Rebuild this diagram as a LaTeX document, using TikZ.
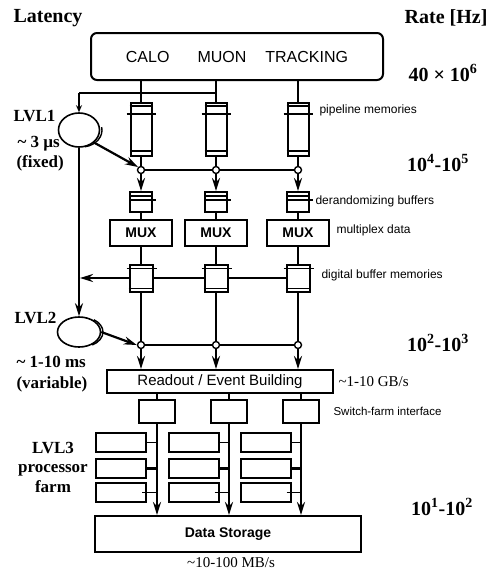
\documentclass[tikz,border=0pt]{standalone}
\usepackage{fontspec}
\setmainfont{Liberation Serif}
\setsansfont{Liberation Sans}
\usetikzlibrary{arrows.meta,positioning,shapes.geometric}

\tikzset{
  plainbox/.style={draw, line width=2pt, fill=white, inner sep=0pt},
  memory/.style={plainbox, minimum width=21pt, minimum height=53pt},
  derand/.style={plainbox, minimum width=22pt, minimum height=20pt},
  muxbox/.style={plainbox, minimum width=62pt, minimum height=26pt,
                 font=\sffamily\bfseries\fontsize{14}{16}\selectfont},
  digbuf/.style={plainbox, minimum width=23pt, minimum height=27pt},
  switchbox/.style={plainbox, minimum width=36pt, minimum height=23pt},
  procbox/.style={plainbox, minimum width=50pt, minimum height=19pt},
  trigger/.style={ellipse, draw, line width=1.6pt, inner sep=0pt},
  junction/.style={circle, draw, line width=1.4pt, fill=white,
                   minimum size=7pt, inner sep=0pt},
  flowline/.style={line width=2.8pt},
  linkline/.style={line width=2.2pt},
  flowarrow/.style={flowline, -{Stealth[length=13pt, width=8pt]}},
  sidelbl/.style={anchor=west, font=\sffamily\fontsize{12}{14}\selectfont},
  ratelbl/.style={font=\bfseries\fontsize{20}{22}\selectfont},
  lvllbl/.style={anchor=west, font=\bfseries\fontsize{17}{19}\selectfont},
}

\begin{document}
\begin{tikzpicture}[x=1pt, y=-1pt]
  \useasboundingbox (0,0) rectangle (495,571);

  %% Headings
  \node[ratelbl, anchor=west] (latency) at (10,18) {Latency};
  \node[ratelbl, anchor=east] (rate) at (491,18) {Rate [Hz]};

  %% Detector front ends
  \node[draw, line width=2pt, rounded corners=6pt, minimum width=292pt,
        minimum height=47pt, font=\sffamily\fontsize{16}{18}\selectfont]
    (det) at (237,56.5) {CALO\hspace{28pt}MUON\hspace{19pt}TRACKING};

  %% Readout chain, one column per detector
  \foreach \i/\x in {1/141,2/216,3/298} {
    \node[memory] (pm\i) at (\x,129.5) {};
    \node[junction] (ja\i) at (\x,170) {};
    \node[derand] (db\i) at (\x,202) {};
    \node[muxbox] (mux\i) at (\x,232.5) {MUX};
    \node[digbuf] (dm\i) at (\x,278) {};
    \node[junction] (jb\i) at (\x,345) {};
    % strips inside the buffers
    \draw[line width=1.5pt] ([yshift=-4pt]pm\i.north west) -- ([yshift=-4pt]pm\i.north east);
    \draw[line width=2pt] ([xshift=-3pt,yshift=-12pt]pm\i.north west)
      -- ([xshift=3pt,yshift=-12pt]pm\i.north east);
    \draw[line width=1.5pt] ([yshift=6pt]pm\i.south west) -- ([yshift=6pt]pm\i.south east);
    \draw[line width=1.5pt] ([yshift=-5pt]db\i.north west) -- ([yshift=-5pt]db\i.north east);
    \draw[line width=1.5pt] ([yshift=-9pt]db\i.north west)
      -- ([xshift=3pt,yshift=-9pt]db\i.north east);
    \draw[line width=1.5pt] ([xshift=-2pt,yshift=-5pt]dm\i.north west)
      -- ([xshift=3pt,yshift=-5pt]dm\i.north east);
    \draw[line width=1.2pt] ([yshift=4pt]dm\i.south west) -- ([yshift=4pt]dm\i.south east);
  }

  %% Trigger levels
  \node[trigger, minimum width=41pt, minimum height=34pt] (lvl1) at (79,130) {};
  \node[trigger, minimum width=43pt, minimum height=30pt] (lvl2) at (79,332) {};
  \draw[line width=1.4pt] ([xshift=2.5pt]lvl1.center) ++(-80:20.5pt and 17pt)
    arc[start angle=-80, end angle=10, x radius=20.5pt, y radius=17pt];
  \draw[line width=1.4pt] ([xshift=2.5pt]lvl2.center) ++(-60:21.5pt and 15pt)
    arc[start angle=-60, end angle=55, x radius=21.5pt, y radius=15pt];

  %% Event building and farm
  \node[plainbox, minimum width=226pt, minimum height=23pt,
        font=\sffamily\fontsize{15}{17}\selectfont]
    (readout) at (220,381.5) {Readout / Event Building};
  \node[plainbox, minimum width=266pt, minimum height=36pt,
        font=\sffamily\bfseries\fontsize{14}{16}\selectfont]
    (store) at (228,534) {Data Storage};
  \foreach \i/\x in {1/157,2/229,3/301}
    \node[switchbox] (sw\i) at (\x,411.5) {};
  \foreach \r/\y in {1/442.5,2/468,3/492.5}
    \foreach \c/\x in {1/121,2/193.5,3/265.5}
      \node[procbox] (p\r\c) at (\x,\y) {};

  %% Data flow
  \foreach \i in {1,2,3} {
    \draw[flowline] (det.south -| pm\i) -- (pm\i.north);
    \draw[flowline] (pm\i.south) -- (ja\i.north);
    \draw[flowarrow] (ja\i.south) -- (db\i.north);
    \draw[flowline] (db\i.south) -- (mux\i.north);
    \draw[flowline] (mux\i.south) -- (dm\i.north);
    \draw[flowline] (dm\i.south) -- (jb\i.north);
    \draw[flowarrow] (jb\i.south) -- (readout.north -| jb\i);
    \draw[flowline] (readout.south -| sw\i) -- (sw\i.north);
    \draw[flowarrow] (sw\i.south) -- (store.north -| sw\i);
    \draw[line width=1.3pt] (p1\i.east) -- (p1\i.east -| sw\i);
    \draw[line width=3pt] (p2\i.east) -- (p2\i.east -| sw\i);
    \draw[line width=1.3pt] ([xshift=-5pt]p3\i.east) -- (p3\i.east -| sw\i);
  }

  %% Trigger paths
  \coordinate (tap) at (79,93);
  \draw[linkline] (tap) -- (tap -| pm2);
  \draw[linkline, -{Stealth[length=7pt, width=6pt]}] (tap) -- (lvl1.north);
  \draw[linkline, -{Stealth[length=13pt, width=8pt]}] (lvl1.south east) -- (ja1.north west);
  \draw[linkline] (ja1.east) -- (ja2.west) (ja2.east) -- (ja3.west);
  \draw[flowline, -{Stealth[length=13pt, width=8pt]}] (lvl1.south) -- (lvl2.north);
  \coordinate (ret) at (lvl1.south |- dm1.west);
  \draw[linkline] (dm3.west) -- (dm2.east) (dm2.west) -- (dm1.east);
  \draw[linkline, -{Stealth[length=13pt, width=8pt]}] (dm1.west) -- ([xshift=1pt]ret);
  \draw[linkline, -{Stealth[length=13pt, width=8pt]}] (lvl2.east) -- (jb1.west);
  \draw[linkline] (jb1.east) -- (jb2.west) (jb2.east) -- (jb3.west);

  %% Trigger labels
  \node[lvllbl] (l1name) at (10,116) {LVL1};
  \node[lvllbl] (l1time) at (14,144) {\textasciitilde{} 3 µs};
  \node[lvllbl] (l1kind) at (13,163) {(fixed)};
  \node[lvllbl] (l2name) at (11,318) {LVL2};
  \node[lvllbl] (l2time) at (13,362) {\textasciitilde{} 1-10 ms};
  \node[lvllbl] (l2kind) at (13,384) {(variable)};
  \node[font=\bfseries\fontsize{17}{19.5}\selectfont, align=center]
    (l3name) at (53,467) {LVL3\\processor\\farm};

  %% Rates
  \node[ratelbl] (r1) at (443,73) {40 × 10\textsuperscript{6}};
  \node[ratelbl] (r2) at (438,163) {10\textsuperscript{4}-10\textsuperscript{5}};
  \node[ratelbl] (r3) at (438,343) {10\textsuperscript{2}-10\textsuperscript{3}};
  \node[ratelbl] (r4) at (442,507) {10\textsuperscript{1}-10\textsuperscript{2}};

  %% Side notes
  \node[sidelbl] (n1) at (316,110) {pipeline memories};
  \node[sidelbl] (n2) at (312,201) {derandomizing buffers};
  \node[sidelbl] (n3) at (333,230) {multiplex data};
  \node[sidelbl] (n4) at (318,275) {digital buffer memories};
  \node[anchor=west, font=\fontsize{15}{17}\selectfont] (n5) at (335,382) {\textasciitilde1-10 GB/s};
  \node[sidelbl, font=\sffamily\fontsize{11.5}{13}\selectfont] (n6) at (330,411) {Switch-farm interface};
  \node[font=\fontsize{15}{17}\selectfont] (n7) at (231,563) {\textasciitilde10-100 MB/s};
\end{tikzpicture}
\end{document}
